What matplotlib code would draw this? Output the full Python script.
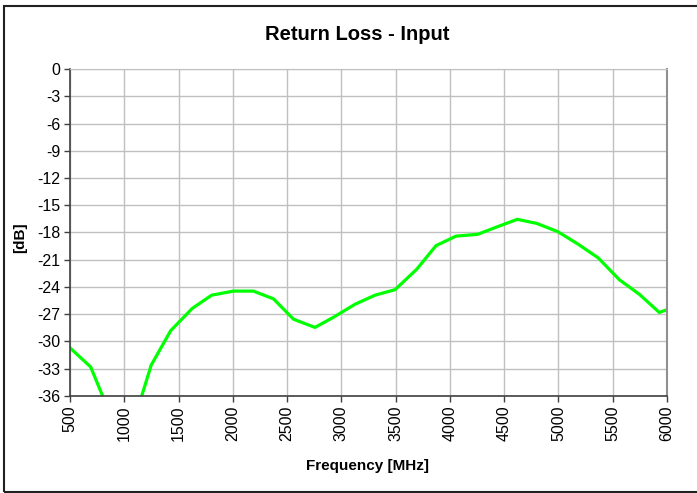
import matplotlib
matplotlib.use("Agg")
import matplotlib.pyplot as plt
from matplotlib.patches import Rectangle

plt.rcParams["font.family"] = ["Liberation Sans", "DejaVu Sans"]

# measured data (values below -36 are clipped by the axis)
freq = [500, 690, 870, 1060, 1248, 1428, 1627, 1805, 2005, 2189, 2374, 2560,
        2757, 2932, 3126, 3310, 3494, 3694, 3872, 4056, 4256, 4430, 4621,
        4800, 4993, 5183, 5367, 5561, 5745, 5929, 6000]
rl = [-30.7, -32.8, -38.0, -39.9, -32.6, -28.8, -26.35, -24.9, -24.45, -24.45,
      -25.3, -27.55, -28.45, -27.3, -25.9, -24.9, -24.3, -22.05, -19.45, -18.4,
      -18.2, -17.4, -16.55, -17.0, -17.9, -19.3, -20.8, -23.2, -24.8, -26.8,
      -26.5]

xticks = list(range(500, 6001, 500))
yticks = list(range(0, -37, -3))

fig = plt.figure(figsize=(6.97, 4.93), dpi=100)
ax = fig.add_axes([70/697, 1-396/493, 597/697, 327/493])

ax.plot(freq, rl, color='#00ff00', lw=2.3, solid_joinstyle='miter')
ax.set_xlim(500, 6000)
ax.set_ylim(-36, 0)
ax.set_xticks(xticks)
ax.set_yticks(yticks)
ax.set_xticklabels([str(t) for t in xticks], rotation=90, fontsize=11.5)
ax.set_yticklabels([str(t) for t in yticks], fontsize=11.5)
ax.grid(True, color='#c0c0c0', lw=1)
ax.tick_params(direction='out', length=4, width=1, color='#404040', pad=3)

for s in ['left', 'bottom']:
    ax.spines[s].set_color('#404040')
    ax.spines[s].set_linewidth(1.2)
ax.spines['top'].set_color('#c0c0c0')
ax.spines['right'].set_color('#909090')
ax.spines['right'].set_linewidth(1.5)

ax.set_xlabel('Frequency [MHz]', fontsize=11, fontweight='bold')
ax.set_ylabel('[dB]', fontsize=11, fontweight='bold')
ax.xaxis.set_label_coords(0.4975, -0.193)
ax.yaxis.set_label_coords(-0.071, 0.485)
fig.text(357/697, 1 - 34/493, 'Return Loss - Input',
         ha='center', va='center', fontsize=14.5, fontweight='bold')

# outer chart frame
fig.patches.append(Rectangle((4/697, 1-492/493), 1.2, (492-6)/493,
                             transform=fig.transFigure, fill=False,
                             edgecolor='#202020', lw=1.5))

fig.savefig('out.png', dpi=100)
